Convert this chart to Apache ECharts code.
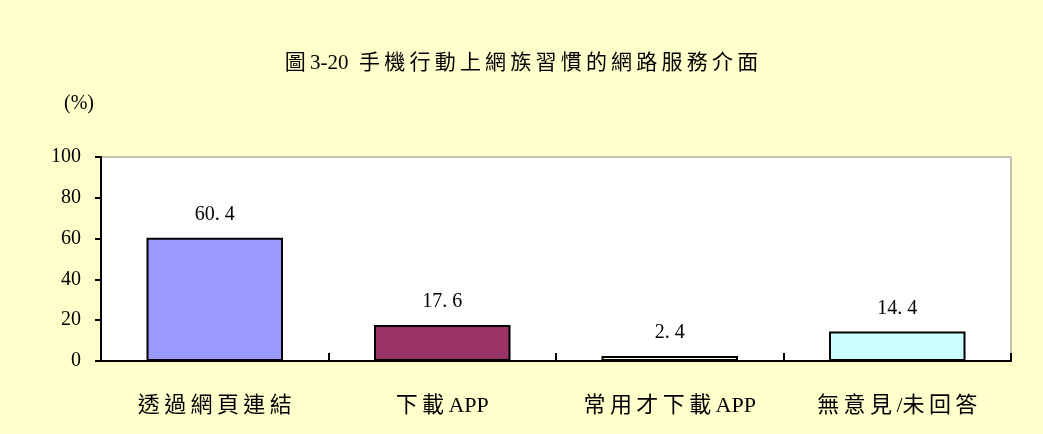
<!DOCTYPE html>
<html><head><meta charset="utf-8">
<script src="https://cdn.jsdelivr.net/npm/echarts@6/dist/echarts.min.js"></script>
<style>html,body{margin:0;padding:0;background:#FFFFCC;}#c{width:1043px;height:434px;}</style>
</head><body><div id="c"></div>
<script>
const categories = ['透過網頁連結', '下載APP', '常用才下載APP', '無意見/未回答'];
const values = [60.4, 17.6, 2.4, 14.4];
const barColors = ['#9999FF', '#993366', '#FFFFCC', '#CCFFFF'];
const yTicks = [0, 20, 40, 60, 80, 100];
const titleText = '圖3-20 手機行動上網族習慣的網路服務介面';

const FONT = '"Liberation Serif", "Noto Sans CJK TC", serif';
// spread CJK characters a little, like the reference's wide-spaced Ming font
const spread = s => s.replace(/([\u3000-\u9fff])(?=[\u3000-\u9fff\/A-Z0-9])/g, '$1\u2009');

const chart = echarts.init(document.getElementById('c'));
chart.setOption({
  backgroundColor: '#FFFFCC',
  animation: false,
  title: {
    text: spread(titleText).replace(' ', '  '),
    left: 'center', top: 48,
    textStyle: { fontFamily: FONT, fontSize: 21, fontWeight: 'normal', color: '#000' }
  },
  graphic: [{
    type: 'text', left: 64, top: 94,
    style: { text: '(%)', font: '20px ' + FONT, fill: '#000' }
  }],
  grid: {
    left: 101, right: 32, top: 157, bottom: 73,
    show: true, backgroundColor: '#fff', borderColor: '#888', borderWidth: 1
  },
  xAxis: {
    type: 'category', data: categories,
    axisLine: { lineStyle: { color: '#000', width: 2 } },
    axisTick: { show: true, inside: true, length: 8, lineStyle: { color: '#000', width: 2 } },
    axisLabel: { margin: 34, fontFamily: FONT, fontSize: 22, color: '#000', formatter: v => spread(v) }
  },
  yAxis: {
    type: 'value', min: yTicks[0], max: yTicks[yTicks.length - 1], interval: 20,
    axisLine: { show: true, lineStyle: { color: '#000', width: 2 } },
    axisTick: { show: true, length: 6, lineStyle: { color: '#000', width: 2 } },
    axisLabel: { margin: 20, fontFamily: FONT, fontSize: 20, color: '#000' },
    splitLine: { show: false }
  },
  series: [{
    type: 'bar', barWidth: '60%',
    data: values.map((v, i) => ({ value: v, itemStyle: { color: barColors[i] } })),
    itemStyle: { borderColor: '#000', borderWidth: 2 },
    label: {
      show: true, position: 'top', distance: 13,
      fontFamily: FONT, fontSize: 20, color: '#000',
      formatter: p => p.value.toFixed(1).replace('.', '. ')
    }
  }]
});
</script></body></html>
